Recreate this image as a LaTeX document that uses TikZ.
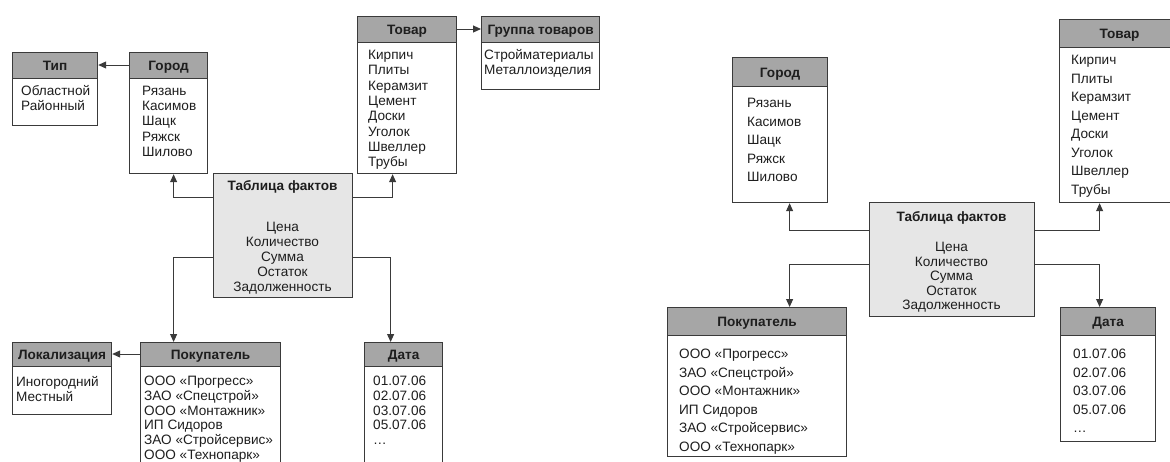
\documentclass[tikz,border=0pt]{standalone}
\usepackage{fontspec}
\setmainfont{Liberation Sans}
\usetikzlibrary{arrows.meta}
\definecolor{edge}{HTML}{3A3A3A}
\definecolor{hdrfill}{HTML}{A6A6A6}
\definecolor{factfill}{HTML}{E6E6E6}
\definecolor{ink}{HTML}{1E1E1E}

% one column of values: name, x, first baseline, line step, anchor, values
\newcommand\valcol[6]{%
  \foreach \t [count=\i] in {#6}
    \node[cellitem, anchor=#5] (#1-\i) at (#2,{#3+#4*(\i-1)}) {\t};}

\begin{document}
\begin{tikzpicture}[x=1pt, y=-1pt,
  tbl/.style={draw=edge, line width=1.2pt, fill=white, inner sep=0pt, anchor=north west},
  hdr/.style={draw=edge, line width=1.2pt, fill=hdrfill, inner sep=0pt, anchor=north west,
    font=\bfseries\fontsize{13.6}{15}\selectfont, text=ink, text height=9.8pt, text depth=0pt},
  cellitem/.style={inner sep=0pt, font=\fontsize{13.6}{15}\selectfont, text=ink},
  conn/.style={draw=edge, line width=1pt, -{Triangle[length=8pt,width=7pt]}},
]
\useasboundingbox (0,0) rectangle (1170,461);

% ---------------- left schema (snowflake) ----------------
\node[tbl, minimum width=85pt, minimum height=73pt] (tipL) at (12,52) {};
\node[hdr, minimum width=85pt, minimum height=26pt] (tipL-h) at (tipL.north west) {Тип};
\valcol{tipL}{21}{95}{15.4}{base west}{Областной,Районный}

\node[tbl, minimum width=78pt, minimum height=121pt] (gorodL) at (129,52) {};
\node[hdr, minimum width=78pt, minimum height=26pt] (gorodL-h) at (gorodL.north west) {Город};
\valcol{gorodL}{142}{95}{15.4}{base west}{Рязань,Касимов,Шацк,Ряжск,Шилово}

\node[tbl, minimum width=99pt, minimum height=157pt] (tovarL) at (357,16) {};
\node[hdr, minimum width=99pt, minimum height=26pt] (tovarL-h) at (tovarL.north west) {Товар};
\valcol{tovarL}{368}{59.5}{15.3}{base west}{Кирпич,Плиты,Керамзит,Цемент,Доски,Уголок,Швеллер,Трубы}

\node[tbl, minimum width=118pt, minimum height=73pt] (gruppaL) at (481,16) {};
\node[hdr, minimum width=118pt, minimum height=26pt] (gruppaL-h) at (gruppaL.north west) {Группа товаров};
\valcol{gruppaL}{484}{59.5}{15.3}{base west}{Стройматериалы,Металлоизделия}

\node[tbl, fill=factfill, minimum width=139pt, minimum height=124pt] (factL) at (213,173) {};
\node[cellitem, font=\bfseries\fontsize{13.6}{15}\selectfont, anchor=base] (factL-t) at (282.5,190) {Таблица фактов};
\valcol{factL}{282.5}{231.5}{14.9}{base}{Цена,Количество,Сумма,Остаток,Задолженность}

\node[tbl, minimum width=99pt, minimum height=72pt] (lokL) at (12,342) {};
\node[hdr, minimum width=99pt, minimum height=24pt] (lokL-h) at (lokL.north west) {Локализация};
\valcol{lokL}{16}{386}{15.3}{base west}{Иногородний,Местный}

\node[tbl, minimum width=140pt, minimum height=140pt] (pokL) at (140,342) {};
\node[hdr, minimum width=140pt, minimum height=24pt] (pokL-h) at (pokL.north west) {Покупатель};
\valcol{pokL}{144}{385.5}{14.8}{base west}{ООО «Прогресс»,ЗАО «Спецстрой»,ООО «Монтажник»,ИП Сидоров,ЗАО «Стройсервис»,ООО «Технопарк»}

\node[tbl, minimum width=78pt, minimum height=140pt] (dataL) at (364,342) {};
\node[hdr, minimum width=78pt, minimum height=24pt] (dataL-h) at (dataL.north west) {Дата};
\valcol{dataL}{373}{385.5}{14.8}{base west}{01.07.06,02.07.06,03.07.06,05.07.06,\ldots}

\draw[conn] ([yshift=-13pt]gorodL.north west) -- ([yshift=-13pt]tipL.north east);
\draw[conn] ([yshift=-13pt]tovarL.north east) -- ([yshift=-13pt]gruppaL.north west);
\draw[conn] ([yshift=-12pt]pokL.north west) -- ([yshift=-12pt]lokL.north east);
\draw[conn] ([yshift=-24pt]factL.north west) -| ([xshift=5pt]gorodL.south);
\draw[conn] ([yshift=-24pt]factL.north east) -| ([xshift=-14.5pt]tovarL.south);
\draw[conn] ([yshift=-84pt]factL.north west) -| ([xshift=-37pt]pokL.north);
\draw[conn] ([yshift=-84pt]factL.north east) -| ([xshift=-13pt]dataL.north);

% ---------------- right schema (star) ----------------
\node[tbl, minimum width=95pt, minimum height=145pt] (gorodR) at (732,57) {};
\node[hdr, minimum width=95pt, minimum height=29pt] (gorodR-h) at (gorodR.north west) {Город};
\valcol{gorodR}{747}{107.5}{18.5}{base west}{Рязань,Касимов,Шацк,Ряжск,Шилово}

\node[tbl, minimum width=120pt, minimum height=183pt] (tovarR) at (1059,19) {};
\node[hdr, minimum width=120pt, minimum height=28pt] (tovarR-h) at (tovarR.north west) {Товар};
\valcol{tovarR}{1071}{64.5}{18.5}{base west}{Кирпич,Плиты,Керамзит,Цемент,Доски,Уголок,Швеллер,Трубы}

\node[tbl, fill=factfill, minimum width=165pt, minimum height=114pt] (factR) at (869,202) {};
\node[cellitem, font=\bfseries\fontsize{13.6}{15}\selectfont, anchor=base] (factR-t) at (951.5,221.5) {Таблица фактов};
\valcol{factR}{951.5}{251.5}{14.5}{base}{Цена,Количество,Сумма,Остаток,Задолженность}

\node[tbl, minimum width=179pt, minimum height=149pt] (pokR) at (667,307) {};
\node[hdr, minimum width=179pt, minimum height=28pt] (pokR-h) at (pokR.north west) {Покупатель};
\valcol{pokR}{679}{358.5}{18.6}{base west}{ООО «Прогресс»,ЗАО «Спецстрой»,ООО «Монтажник»,ИП Сидоров,ЗАО «Стройсервис»,ООО «Технопарк»}

\node[tbl, minimum width=95pt, minimum height=134pt] (dataR) at (1060,307) {};
\node[hdr, minimum width=95pt, minimum height=28pt] (dataR-h) at (dataR.north west) {Дата};
\valcol{dataR}{1073}{358.5}{18.6}{base west}{01.07.06,02.07.06,03.07.06,05.07.06,\ldots}

\draw[conn] ([yshift=-28pt]factR.north west) -| ([xshift=9.5pt]gorodR.south);
\draw[conn] ([yshift=-28pt]factR.north east) -| ([xshift=-20pt]tovarR.south);
\draw[conn] ([yshift=-62pt]factR.north west) -| ([xshift=32.5pt]pokR.north);
\draw[conn] ([yshift=-62pt]factR.north east) -| ([xshift=-8.5pt]dataR.north);
\end{tikzpicture}
\end{document}
